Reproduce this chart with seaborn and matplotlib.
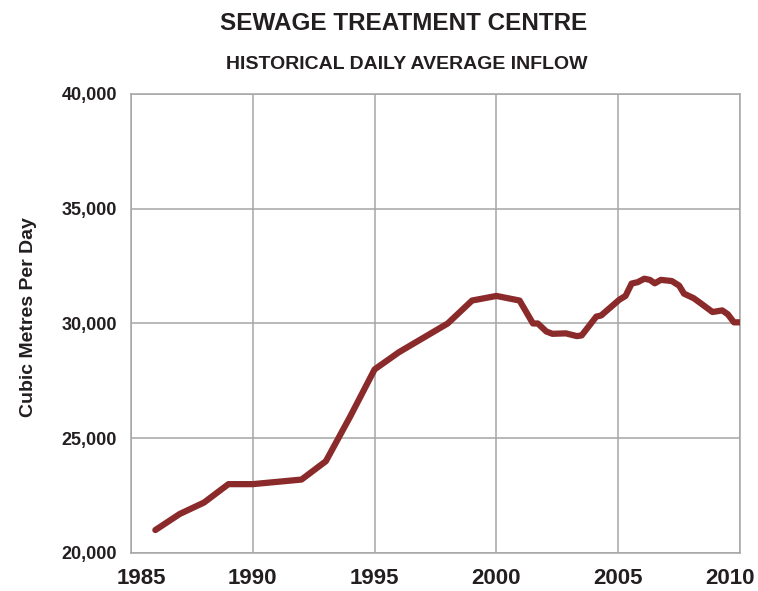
import matplotlib
matplotlib.use("Agg")
import matplotlib.pyplot as plt
import matplotlib.transforms as mtrans
from matplotlib.ticker import FixedLocator, MultipleLocator, FuncFormatter
import seaborn as sns
import pandas as pd

# values
years = [1986, 1987, 1988, 1989, 1990, 1991, 1992, 1993, 1994, 1995,
         1996, 1998, 1999, 2000, 2000.95, 2001.5, 2001.7, 2002.05, 2002.3,
         2002.85, 2003.3, 2003.5, 2004.1, 2004.3, 2005.05, 2005.3, 2005.55,
         2005.8, 2006.07, 2006.3, 2006.5, 2006.75, 2007.2, 2007.5, 2007.7,
         2008.1, 2008.4, 2008.87, 2009.27, 2009.5, 2009.75, 2010]
inflow = [21000, 21700, 22200, 23000, 23000, 23100, 23200, 24000, 25950, 28000,
          28750, 30000, 31000, 31200, 31000, 30000, 30000, 29650, 29550,
          29570, 29450, 29480, 30300, 30350, 31040, 31200, 31740,
          31800, 31950, 31900, 31750, 31900, 31850, 31650, 31300,
          31100, 30870, 30500, 30570, 30400, 30050, 30050]

x_ticks = [1985, 1990, 1995, 2000, 2005, 2010]
y_ticks = [20000, 25000, 30000, 35000, 40000]

title = "SEWAGE TREATMENT CENTRE"
subtitle = "HISTORICAL DAILY AVERAGE INFLOW"
ylabel = "Cubic Metres Per Day"

df = pd.DataFrame({"year": years, "inflow": inflow})

sns.set_theme(style="white")
plt.rcParams["font.family"] = ["Liberation Sans", "DejaVu Sans"]

fig = plt.figure(figsize=(7.58, 5.91), dpi=100)
ax = fig.add_axes([0.1728, 0.0643, 0.8035, 0.7767])

grid_c = "#a6a6a6"
text_c = "#231f20"
sns.lineplot(data=df, x="year", y="inflow", ax=ax, color="#8b2a2a",
             linewidth=4.5, solid_capstyle="round", solid_joinstyle="round",
             zorder=3)

ax.set_xlim(1985, 2010)
ax.set_ylim(20000, 40000)
ax.xaxis.set_major_locator(FixedLocator(x_ticks))
ax.xaxis.set_minor_locator(MultipleLocator(1))
ax.yaxis.set_major_locator(FixedLocator(y_ticks))
ax.yaxis.set_major_formatter(FuncFormatter(lambda v, p: f"{int(v):,}"))
ax.grid(True, which="major", color=grid_c, linewidth=1.1)
ax.tick_params(axis="x", which="major", length=0, pad=11, labelsize=16)
ax.tick_params(axis="x", which="minor", direction="in", length=4,
               color="#b0b0b0", width=0.9)
ax.tick_params(axis="y", which="major", length=0, pad=10, labelsize=13)
for lab in ax.get_xticklabels() + ax.get_yticklabels():
    lab.set_fontweight("bold")
    lab.set_color(text_c)
# the end labels sit a little inward in the reference
xl = ax.get_xticklabels()
xl[0].set_transform(xl[0].get_transform() + mtrans.ScaledTranslation(10 / 100, 0, fig.dpi_scale_trans))
xl[-1].set_transform(xl[-1].get_transform() + mtrans.ScaledTranslation(-10 / 100, 0, fig.dpi_scale_trans))
for s in ax.spines.values():
    s.set_color(grid_c)
    s.set_linewidth(1.1)

ax.set_xlabel("")
ax.set_ylabel("")
fig.text(0.037, 0.4636, ylabel, rotation=90, ha="center", va="center",
         fontsize=14, fontweight="bold", color=text_c)

fig.text(0.532, 0.960, title, ha="center", va="center", fontsize=17.5,
         fontweight="bold", color=text_c)
fig.text(0.537, 0.891, subtitle, ha="center", va="center", fontsize=14,
         fontweight="bold", color=text_c)

fig.savefig("out.png", dpi=100)
